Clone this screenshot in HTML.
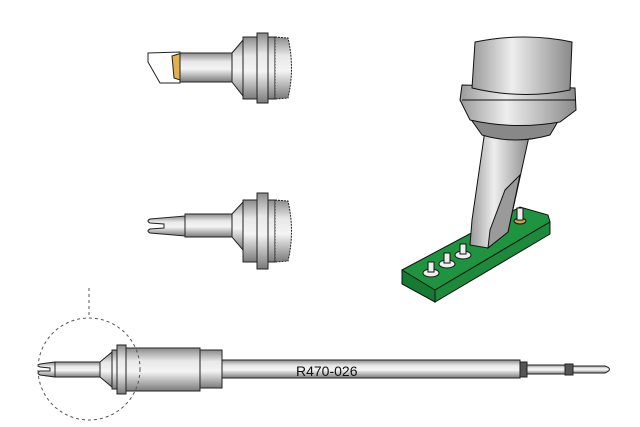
<!DOCTYPE html>
<html><head><style>
html,body{margin:0;padding:0;background:#fff;}
svg{display:block;}
text{font-family:"Liberation Sans",sans-serif;}
</style></head><body>
<svg width="640" height="427" viewBox="0 0 640 427" xmlns="http://www.w3.org/2000/svg">
<defs>
<linearGradient id="m" x1="0" y1="0" x2="0" y2="1">
<stop offset="0" stop-color="#8a8a8a"/><stop offset="0.3" stop-color="#e8e8e8"/><stop offset="0.55" stop-color="#f4f4f4"/><stop offset="1" stop-color="#7a7a7a"/>
</linearGradient>
<linearGradient id="mh" x1="0" y1="0" x2="1" y2="0">
<stop offset="0" stop-color="#9a9a9a"/><stop offset="0.4" stop-color="#eeeeee"/><stop offset="1" stop-color="#8a8a8a"/>
</linearGradient>
</defs>
<g stroke="#222" stroke-width="1">
<!-- Tool 1 -->
<polygon points="148,53 180,52 180,83 160,83 148,62" fill="#fff"/>
<polygon points="172,56 182,53 180,80 174,78" fill="#e0b050"/>
<rect x="180" y="53" width="52" height="29" fill="url(#m)"/>
<polygon points="232,53 243,40 243,96 232,82" fill="url(#m)"/>
<rect x="243" y="37" width="14" height="62" fill="url(#m)"/>
<rect x="257" y="33" width="11" height="70" fill="url(#m)"/>
<rect x="268" y="37" width="7" height="62" fill="url(#m)"/>
<path d="M275,37 L288,38 Q295,68 288,98 L275,99 Z" fill="url(#m)" stroke-dasharray="2,1"/>
<!-- Tool 2 -->
<path d="M150,219 L185,216 L185,236 L150,233 Q146,231 150,229 L164,228 L164,224 L150,223 Q146,221 150,219 Z" fill="url(#m)"/>
<rect x="185" y="214" width="47" height="23" fill="url(#m)"/>
<polygon points="232,214 243,202 243,250 232,237" fill="url(#m)"/>
<rect x="243" y="200" width="14" height="62" fill="url(#m)"/>
<rect x="257" y="193" width="11" height="76" fill="url(#m)"/>
<rect x="268" y="200" width="7" height="62" fill="url(#m)"/>
<path d="M275,200 L288,201 Q295,231 288,261 L275,262 Z" fill="url(#m)" stroke-dasharray="2,1"/>
<!-- Bottom long tool -->
<path d="M40,364 L55,362 L55,377 L40,375 Q36,373 40,371 L50,371 L50,368 L40,367 Q36,365 40,364 Z" fill="url(#m)"/>
<rect x="55" y="362" width="45" height="15" fill="url(#m)"/>
<polygon points="100,362 112,352 112,387 100,377" fill="url(#m)"/>
<rect x="112" y="350" width="5" height="39" fill="url(#m)"/>
<rect x="117" y="345" width="9" height="49" fill="url(#m)"/>
<rect x="126" y="348" width="74" height="43" fill="url(#m)"/>
<rect x="200" y="350" width="22" height="38" fill="url(#m)"/>
<rect x="222" y="360" width="298" height="18" fill="url(#m)"/>
<rect x="520" y="362" width="7" height="15" fill="#555"/>
<rect x="527" y="365" width="38" height="9" fill="url(#m)"/>
<rect x="565" y="364" width="8" height="11" fill="#555"/>
<path d="M573,366 L605,366 Q614,369 605,373 L573,373 Z" fill="url(#m)"/>
</g>
<circle cx="89" cy="369" r="51" fill="none" stroke="#555" stroke-dasharray="3,3"/>
<line x1="89" y1="288" x2="89" y2="318" stroke="#555" stroke-dasharray="3,3"/>
<text x="296" y="376" font-size="14" fill="#111">R470-026</text>
<!-- PCB -->
<g stroke="#111" stroke-width="1">
<polygon points="402,270 520,207 548,215 550,222 435,290 402,282" fill="#1f9440"/>
<polygon points="402,270 435,290 435,302 402,284" fill="#157a32"/>
<polygon points="435,290 550,222 550,234 435,302" fill="#1c8a3a"/>
<g fill="#eee">
<ellipse cx="431" cy="273" rx="8" ry="4"/><rect x="428" y="262" width="6" height="10"/>
<ellipse cx="447" cy="264" rx="8" ry="4"/><rect x="444" y="253" width="6" height="10"/>
<ellipse cx="463" cy="255" rx="8" ry="4"/><rect x="460" y="244" width="6" height="10"/>
<ellipse cx="520" cy="221" rx="6" ry="3" fill="#c9a24a"/><rect x="517" y="208" width="6" height="12"/>
</g>
<!-- nozzle -->
<polygon points="485,130 530,132 508,232 488,248 470,245 472,220" fill="url(#mh)"/>
<polygon points="505,190 520,175 508,232 488,248 490,230" fill="#9a9a9a"/>
<path d="M470,118 L560,118 L550,135 Q515,145 482,135 Z" fill="#888"/>
<path d="M462,85 L575,88 L576,110 L560,122 Q515,130 470,120 L460,100 Z" fill="url(#mh)"/>
<path d="M475,42 Q525,32 572,42 L570,90 Q522,100 472,88 Z" fill="url(#mh)"/>
<line x1="462" y1="100" x2="576" y2="100"/>
</g>
</svg>
</body></html>
